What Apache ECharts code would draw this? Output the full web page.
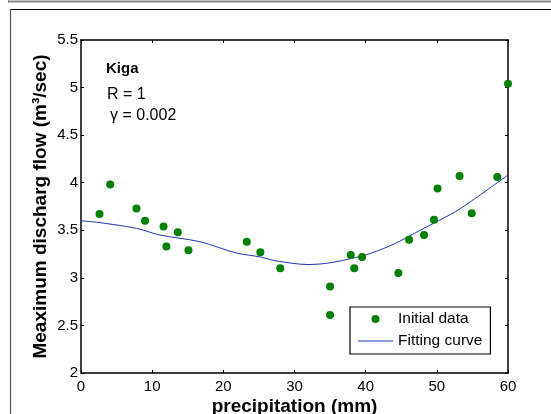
<!DOCTYPE html>
<html>
<head>
<meta charset="utf-8">
<script src="https://cdn.jsdelivr.net/npm/echarts@6/dist/echarts.min.js"></script>
<style>
html,body{margin:0;padding:0;background:#fff;}
#chart{width:551px;height:414px;}
</style>
</head>
<body>
<div id="chart"></div>
<script>
var precipitation = [2.6, 4.1, 7.8, 9.0, 11.6, 12.0, 13.6, 15.1, 23.3, 25.2, 28.0, 35.0, 35.0, 37.9, 38.4, 39.5, 44.6, 46.1, 48.2, 49.6, 50.1, 53.2, 54.9, 58.5, 60.0];
var discharge = [3.67, 3.98, 3.73, 3.60, 3.54, 3.33, 3.48, 3.29, 3.38, 3.27, 3.10, 2.91, 2.61, 3.24, 3.10, 3.22, 3.05, 3.40, 3.45, 3.61, 3.94, 4.07, 3.68, 4.06, 5.04];
var curveX = [0, 2.7, 7.8, 11.1, 16.7, 21.9, 25.2, 27.3, 31.9, 34.7, 37.8, 40.8, 44.1, 46.9, 49.7, 52.6, 55.1, 60];
var curveY = [3.60, 3.58, 3.52, 3.45, 3.38, 3.26, 3.22, 3.18, 3.14, 3.155, 3.20, 3.26, 3.36, 3.47, 3.58, 3.695, 3.82, 4.08];
var xTicks = [0, 10, 20, 30, 40, 50, 60];
var yTicks = [2, 2.5, 3, 3.5, 4, 4.5, 5, 5.5];
var seriesNames = ['Initial data', 'Fitting curve'];
var annotations = ['Kiga', 'R = 1', '\u03b3 = 0.002'];
var xTitle = 'precipitation (mm)';
var yTitle = 'Meaximum discharg flow (m\u00b3/sec)';

var FONT = 'Liberation Sans, Arial, sans-serif';
var chart = echarts.init(document.getElementById('chart'));

function zip(a, b) { return a.map(function (v, i) { return [v, b[i]]; }); }

var axisCommon = {
  axisLine: { show: true, onZero: false, lineStyle: { color: '#000', width: 1.5 } },
  axisTick: { show: true, inside: true, length: 3, lineStyle: { color: '#000', width: 1 } },
  splitLine: { show: false }
};

chart.setOption({
  animation: false,
  backgroundColor: '#fff',
  textStyle: { fontFamily: FONT },
  grid: { left: 81, right: 43, top: 40, bottom: 41, containLabel: false, outerBoundsMode: 'none' },
  xAxis: [
    Object.assign({
      type: 'value', min: xTicks[0], max: xTicks[xTicks.length - 1], interval: 10, position: 'bottom',
      name: xTitle, nameLocation: 'middle', nameGap: 24, nameMoveOverlap: false,
      nameTextStyle: { fontFamily: FONT, fontSize: 19, fontWeight: 'bold', color: '#000' },
      axisLabel: { show: true, color: '#000', fontSize: 15, fontFamily: FONT, margin: 6 }
    }, axisCommon),
    Object.assign({
      type: 'value', min: xTicks[0], max: xTicks[xTicks.length - 1], interval: 10, position: 'top',
      axisLabel: { show: false }
    }, axisCommon)
  ],
  yAxis: [
    Object.assign({
      type: 'value', min: yTicks[0], max: yTicks[yTicks.length - 1], interval: 0.5, position: 'left',
      name: yTitle, nameLocation: 'middle', nameGap: 31, nameMoveOverlap: false,
      nameTextStyle: { fontFamily: FONT, fontSize: 19, fontWeight: 'bold', color: '#000' },
      axisLabel: { show: true, color: '#000', fontSize: 15, fontFamily: FONT, margin: 3,
        formatter: function (v) { return String(v); } }
    }, axisCommon),
    Object.assign({
      type: 'value', min: yTicks[0], max: yTicks[yTicks.length - 1], interval: 0.5, position: 'right',
      axisLabel: { show: false }
    }, axisCommon)
  ],
  legend: {
    orient: 'vertical', left: 350, top: 307,
    data: [
      { name: seriesNames[0], icon: 'circle' },
      { name: seriesNames[1], icon: 'path://M0,0 L35,0 L35,1.2 L0,1.2 Z' }
    ],
    symbolKeepAspect: true,
    itemWidth: 35, itemHeight: 8, itemGap: 6,
    padding: [4, 8, 5, 8],
    borderColor: '#000', borderWidth: 1.2, backgroundColor: '#fff',
    textStyle: { fontFamily: FONT, fontSize: 15.5, color: '#000' }
  },
  graphic: [
    { type: 'line', shape: { x1: 8, y1: 1.5, x2: 551, y2: 1.5 }, style: { stroke: '#8a8a8a', lineWidth: 2 } },
    { type: 'line', shape: { x1: 8.5, y1: 0, x2: 8.5, y2: 3 }, style: { stroke: '#8a8a8a', lineWidth: 1 } },
    { type: 'line', shape: { x1: 10, y1: 9.5, x2: 551, y2: 9.5 }, style: { stroke: '#000', lineWidth: 1.2 } },
    { type: 'line', shape: { x1: 10.5, y1: 9, x2: 10.5, y2: 414 }, style: { stroke: '#555', lineWidth: 1.2 } },
    { type: 'text', left: 106, top: 61, style: { text: annotations[0], font: 'bold 15px ' + FONT, fill: '#000' } },
    { type: 'text', left: 107, top: 87, style: { text: annotations[1], font: '16px ' + FONT, fill: '#000' } },
    { type: 'text', left: 110, top: 108, style: { text: annotations[2], font: '16px ' + FONT, fill: '#000' } }
  ],
  series: [
    {
      name: seriesNames[0], type: 'scatter', xAxisIndex: 0, yAxisIndex: 0,
      data: zip(precipitation, discharge), symbol: 'circle', symbolSize: 8,
      itemStyle: { color: '#008000', opacity: 1 }, z: 3
    },
    {
      name: seriesNames[1], type: 'line', xAxisIndex: 0, yAxisIndex: 0,
      data: zip(curveX, curveY), showSymbol: false, symbol: 'none', smooth: 0.3,
      lineStyle: { color: '#2035b0', width: 1 }, itemStyle: { color: '#2035b0' }, z: 2
    }
  ]
});
</script>
</body>
</html>
